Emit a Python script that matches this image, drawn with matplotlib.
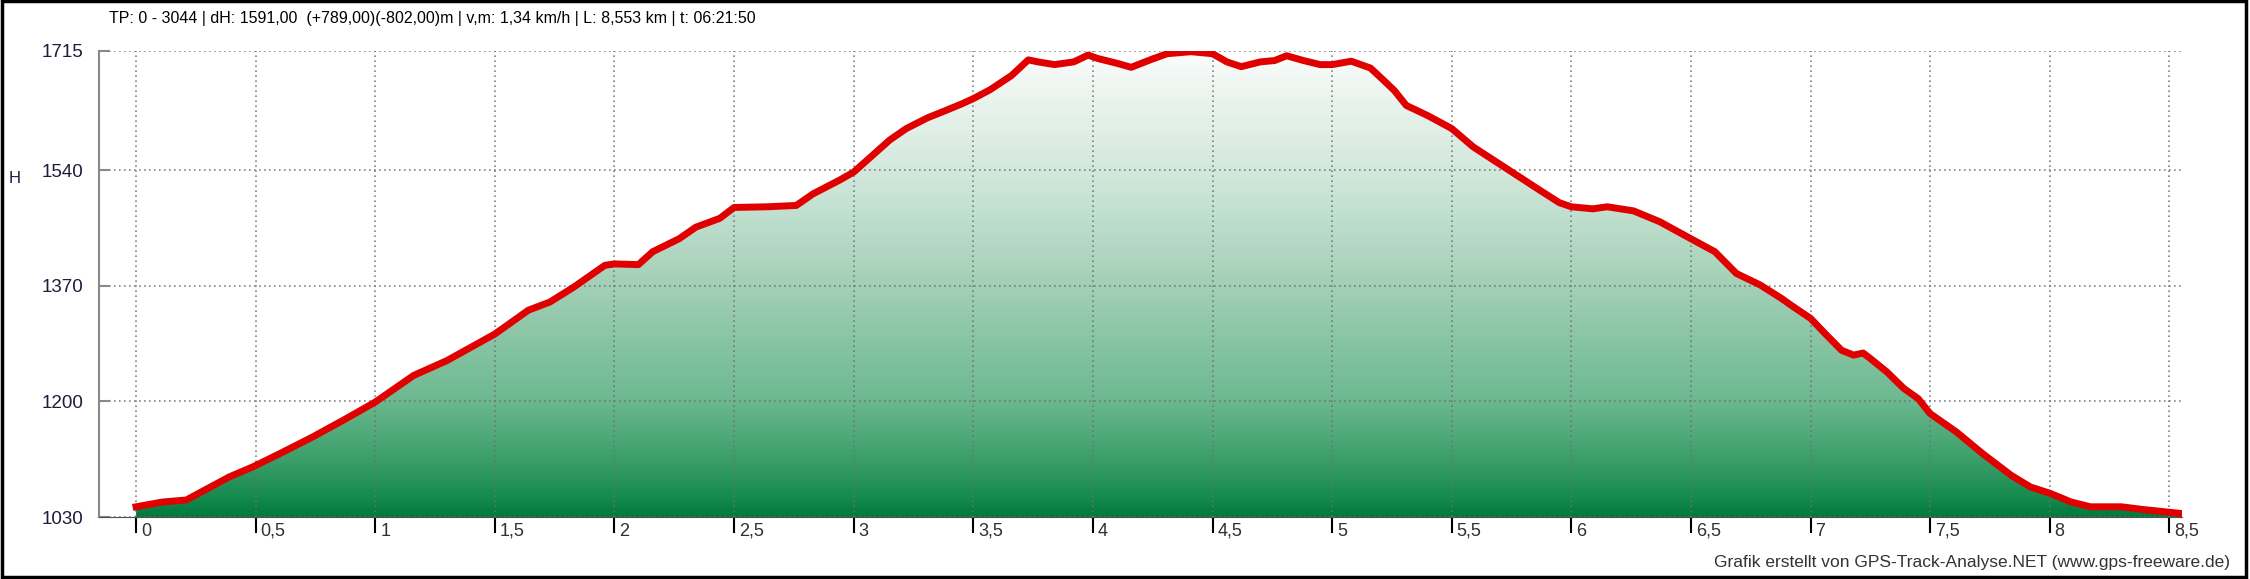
import numpy as np
import matplotlib
matplotlib.use("Agg")
import matplotlib.pyplot as plt
from matplotlib import font_manager
from matplotlib.colors import LinearSegmentedColormap
from matplotlib.patches import Polygon, Rectangle
from matplotlib.transforms import ScaledTranslation

# distance (km) and elevation (m)
km = [0, 0.11, 0.21, 0.30, 0.39, 0.49, 0.60, 0.74, 0.88, 1.0, 1.16, 1.30, 1.5, 1.64, 1.73,
      1.83, 1.96, 2.0, 2.10, 2.16, 2.27, 2.34, 2.44, 2.5, 2.64, 2.76, 2.83, 2.94, 3.0,
      3.08, 3.15, 3.22, 3.31, 3.36, 3.45, 3.5, 3.57, 3.66, 3.73, 3.77, 3.84, 3.92, 3.98,
      4.02, 4.10, 4.16, 4.24, 4.31, 4.41, 4.5, 4.56, 4.62, 4.70, 4.76, 4.81, 4.88, 4.95,
      5.0, 5.08, 5.16, 5.2, 5.26, 5.31, 5.40, 5.5, 5.59, 5.73, 5.87, 5.95, 6.0, 6.09,
      6.15, 6.26, 6.37, 6.5, 6.60, 6.69, 6.79, 6.88, 6.92, 7.0, 7.06, 7.13, 7.18, 7.22,
      7.25, 7.32, 7.39, 7.45, 7.5, 7.61, 7.72, 7.84, 7.92, 8.0, 8.09, 8.17, 8.30, 8.39,
      8.5, 8.553]
elev = [1045, 1052, 1055, 1072, 1089, 1104, 1123, 1148, 1175, 1199, 1238, 1260, 1299, 1334, 1346,
        1368, 1400, 1402, 1401, 1420, 1439, 1456, 1469, 1485, 1486, 1488, 1505, 1525, 1537,
        1562, 1584, 1601, 1617, 1624, 1637, 1645, 1658, 1679, 1702, 1699, 1695, 1699, 1709,
        1704, 1697, 1691, 1702, 1711, 1714, 1711, 1699, 1692, 1699, 1701, 1708, 1701, 1695,
        1695, 1700, 1690, 1677, 1657, 1635, 1620, 1601, 1574, 1542, 1510, 1492, 1486, 1483,
        1486, 1480, 1464, 1439, 1420, 1388, 1371, 1351, 1341, 1322, 1300, 1275, 1268, 1271,
        1263, 1243, 1219, 1204, 1182, 1155, 1123, 1091, 1074, 1065, 1052, 1045, 1045, 1041,
        1037, 1035]

x_ticks = [0, 0.5, 1, 1.5, 2, 2.5, 3, 3.5, 4, 4.5, 5, 5.5, 6, 6.5, 7, 7.5, 8, 8.5]
x_labels = ["0", "0,5", "1", "1,5", "2", "2,5", "3", "3,5", "4", "4,5", "5", "5,5",
            "6", "6,5", "7", "7,5", "8", "8,5"]
y_ticks = [1030, 1200, 1370, 1540, 1715]

title = ("TP: 0 - 3044 | dH: 1591,00  (+789,00)(-802,00)m | v,m: 1,34 km/h | "
         "L: 8,553 km | t: 06:21:50")
credit = "Grafik erstellt von GPS-Track-Analyse.NET (www.gps-freeware.de)"

names = {f.name for f in font_manager.fontManager.ttflist}
narrow = "Liberation Sans Narrow" if "Liberation Sans Narrow" in names else "Liberation Sans"
plt.rcParams["font.family"] = ["Liberation Sans", "DejaVu Sans"]

fig = plt.figure(figsize=(22.5, 5.79), dpi=100)
ax = fig.add_axes([99 / 2250, 1 - 517 / 579, (2182 - 99) / 2250, (517 - 51) / 579])
ax.set_xlim(-0.155, 8.553)
ax.set_ylim(1030, 1715)

# green gradient under the curve
cmap = LinearSegmentedColormap.from_list("hill", [
    (0.0, "#007a3c"), (0.04, "#168a4e"), (0.12, "#3a9e68"), (0.25, "#6cb990"),
    (0.5, "#a3d0b7"), (0.74, "#d2e8dc"), (1.0, "#fafcfb")])
poly = Polygon(list(zip(km, elev)) + [(km[-1], 1030), (km[0], 1030)],
               closed=True, facecolor="none", edgecolor="none")
ax.add_patch(poly)
grad = np.linspace(0, 1, 256).reshape(-1, 1)
im = ax.imshow(grad, extent=[km[0], km[-1], 1030, 1715], origin="lower",
               aspect="auto", cmap=cmap, zorder=1)
im.set_clip_path(poly)

ax.plot(km, elev, color="#e00000", lw=5, zorder=3, solid_joinstyle="round")

ax.grid(True, linestyle=(0, (1, 2)), color="#707070", lw=1.2, alpha=0.85)

ax.set_xticks(x_ticks, x_labels)
ax.set_yticks(y_ticks)
ax.tick_params(axis="x", direction="out", length=11.5, width=1.5, color="black",
               pad=-7.5, labelsize=13, labelcolor="#303030")
ax.tick_params(axis="y", direction="in", length=8, width=1.5, color="#888888",
               pad=11.5, labelsize=13.5, labelcolor="#1c1c3c")
offset = ScaledTranslation(5 / 100, 0, fig.dpi_scale_trans)
for lab in ax.get_xticklabels():
    lab.set_horizontalalignment("left")
    lab.set_fontfamily(narrow)
    lab.set_transform(lab.get_transform() + offset)

for s in ["top", "right"]:
    ax.spines[s].set_visible(False)
ax.spines["left"].set_color("#888888")
ax.spines["left"].set_linewidth(1.5)
ax.spines["bottom"].set_linestyle((0, (1, 1)))
ax.spines["bottom"].set_color("#505050")

fig.text(15 / 2250, 1 - 178 / 579, "H", fontsize=12, color="#1c1c3c", ha="center", va="center")
fig.text(109 / 2250, 1 - 19 / 579, title, fontsize=11.5, family=narrow, color="black",
         ha="left", va="center")
fig.text(2230 / 2250, 1 - 563 / 579, credit, fontsize=12.5, family=narrow, color="#333333",
         ha="right", va="center")

fig.patches.append(Rectangle((0.0007, 0.003), 0.9975, 0.995, transform=fig.transFigure,
                             fill=False, lw=2.5, edgecolor="black"))

fig.savefig("out.png", dpi=100, facecolor="white")
